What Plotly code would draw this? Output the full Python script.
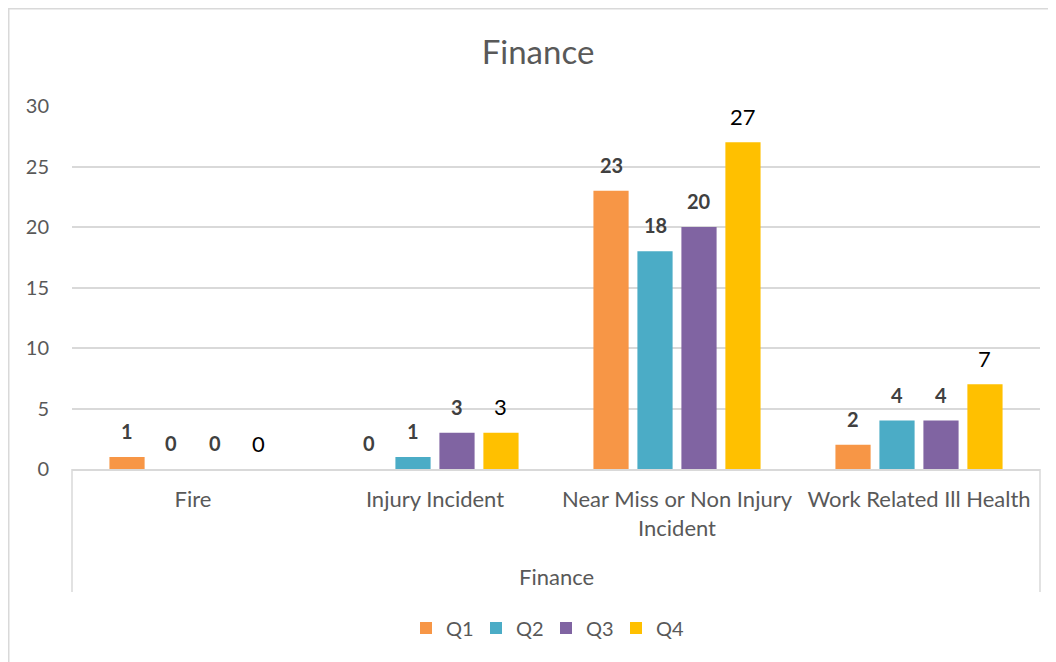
import plotly.graph_objects as go

categories = ["Fire", "Injury Incident", "Near Miss or Non Injury<br>Incident", "Work Related Ill Health"]
series_names = ["Q1", "Q2", "Q3", "Q4"]
q1 = [1, 0, 23, 2]
q2 = [0, 1, 18, 4]
q3 = [0, 3, 20, 4]
q4 = [0, 3, 27, 7]
colors = ["#F79646", "#4BACC6", "#8064A2", "#FFC000"]
y_ticks = [0, 5, 10, 15, 20, 25, 30]
group_label = "Finance"
title_text = "Finance"

FONT = "Lato, 'Noto Sans', sans-serif"
GRAY = "#595959"

# page body has an 8px margin, so the figure sits at (8, 8)
W, H = 1048, 654
ML, MR, MT, MB = 64, 16, 98, 193
plot_w = W - ML - MR
plot_h = H - MT - MB
BARGAP = 0.273
BARGROUPGAP = 0.2

fig = go.Figure()
all_vals = [q1, q2, q3, q4]
for name, vals, col in zip(series_names, all_vals, colors):
    fig.add_trace(go.Bar(name=name, x=categories, y=vals, marker=dict(color=col, line=dict(width=0))))

# data labels
cat_w = plot_w / len(categories)
slot = cat_w * (1 - BARGAP) / len(series_names)
for i, vals in enumerate(all_vals):
    bold = i < 3
    for c, v in zip(categories, vals):
        fig.add_annotation(
            x=c, y=v, xref="x", yref="y",
            text=f"<b>{v}</b>" if bold else str(v),
            showarrow=False,
            xshift=(i - 1.5) * slot,
            yshift=26,
            yanchor="middle",
            font=dict(family=FONT, size=20 if bold else 22, color="#404040" if bold else "#000000"),
        )

# multi-level axis lines and group label
for xd in (0, 1):
    fig.add_shape(type="line", xref="x domain", yref="y domain", x0=xd, x1=xd, y0=0, y1=-(592 - 469) / plot_h,
                  line=dict(color="#D9D9D9", width=1.5))
fig.add_annotation(x=0.5, y=-(576 - 469) / plot_h, xref="x domain", yref="y domain", text=group_label,
                   showarrow=False, yanchor="middle", font=dict(family=FONT, size=22, color=GRAY))

# chart border
fig.add_shape(type="rect", xref="paper", yref="paper",
              x0=-(ML - 0.75) / plot_w, x1=1 + (MR + 10) / plot_w,
              y0=-(MB + 10) / plot_h, y1=1 + (MT - 0.75) / plot_h,
              line=dict(color="#D9D9D9", width=1.5))

fig.update_layout(
    width=W, height=H,
    margin=dict(l=ML, r=MR, t=MT, b=MB),
    paper_bgcolor="white", plot_bgcolor="white",
    barmode="group", bargap=BARGAP, bargroupgap=BARGROUPGAP,
    title=dict(text=title_text, x=530 / W, xref="container", xanchor="center", y=1 - 44 / H, yref="container",
               yanchor="middle", font=dict(family=FONT, size=33, color=GRAY)),
    font=dict(family=FONT, color=GRAY),
    legend=dict(orientation="h", x=(406 - 8) / W, xanchor="left", xref="container", y=1 - 620 / H, yref="container",
                yanchor="middle", font=dict(family=FONT, size=20, color=GRAY), traceorder="normal",
                itemwidth=30, entrywidth=25, entrywidthmode="pixels"),
    showlegend=True,
)
fig.update_xaxes(
    type="category", showgrid=False, showline=True, linecolor="#D9D9D9", linewidth=1.5,
    ticks="", ticklabelstandoff=10, tickfont=dict(family=FONT, size=22, color=GRAY), fixedrange=True,
)
fig.update_yaxes(
    range=[0, 30], tickvals=y_ticks, showgrid=True, gridcolor="#D9D9D9", gridwidth=1.5, zeroline=False,
    showline=False, ticks="", ticklabelstandoff=22, tickfont=dict(family=FONT, size=20, color=GRAY),
    fixedrange=True,
)

fig.write_html("out.html")
